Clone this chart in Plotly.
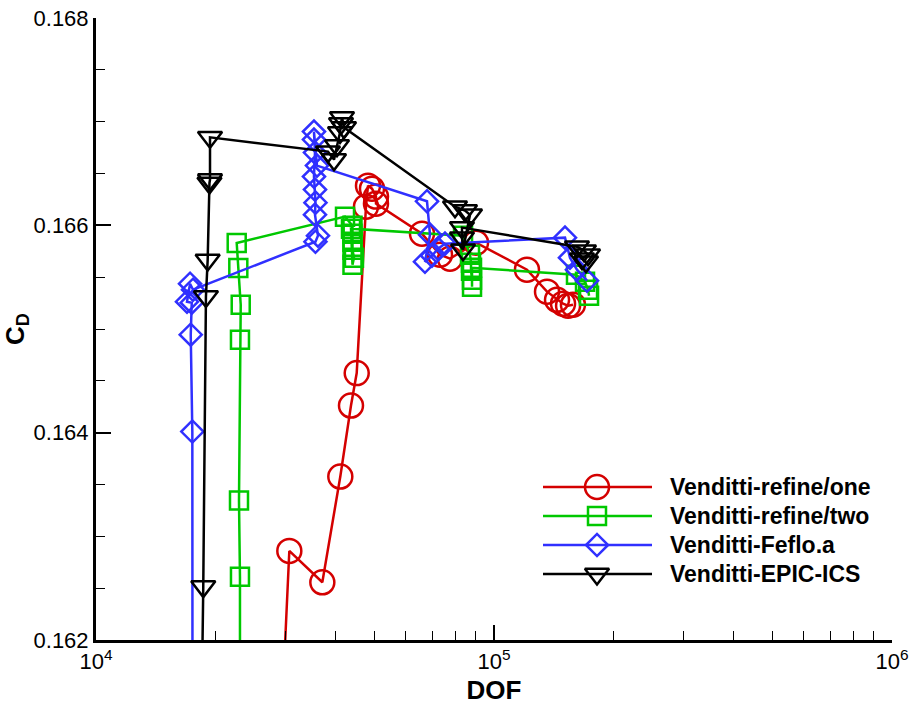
import plotly.graph_objects as go

# ---------------- data ----------------
series_names = ["Venditti-refine/one", "Venditti-refine/two",
                "Venditti-Feflo.a", "Venditti-EPIC-ICS"]

red_dof = [29080, 30600, 37040, 41100, 43720, 45190,
           47680, 48240, 49370, 50520, 50520,
           65930, 73170, 77520, 90120,
           121000, 135900, 144000, 149100, 153500, 157900]
red_cd = [0.161006, 0.162859, 0.162557, 0.163577, 0.164262, 0.164575,
          0.166180, 0.166383, 0.166354, 0.166277, 0.166209,
          0.165920, 0.165717, 0.165678, 0.165833,
          0.165572, 0.165360, 0.165282, 0.165244, 0.165225, 0.165234]

green_dof = [23000, 23000, 22870, 23000, 23100, 22780, 22570,
             42230, 44100, 44100, 44100, 44100, 44480, 44100, 43720,
             83600, 87040, 87550, 87550, 88060, 88060, 88060,
             160700, 169300, 172300, 173300]
green_cd = [0.160841, 0.162611, 0.163345, 0.164896, 0.165234, 0.165589, 0.165830,
            0.166084, 0.165997, 0.165920, 0.165842, 0.165765, 0.165688, 0.165620, 0.165968,
            0.165900, 0.165717, 0.165640, 0.165562, 0.165476, 0.165408, 0.165591,
            0.165524, 0.165456, 0.165379, 0.165321]

blue_dof = [17480, 17460, 17300, 17400, 16930, 17230, 17530,
            35600, 36120, 35500, 35600, 35500, 35290, 35500, 35290, 35290, 35910,
            67870, 69050, 67080, 69850, 72330, 75310,
            150800, 155200, 161600, 171300]
blue_cd = [0.160841, 0.164011, 0.164945, 0.165254, 0.165263, 0.165437, 0.165379,
           0.165842, 0.165900, 0.166103, 0.166219, 0.166345, 0.166470, 0.166702, 0.166827, 0.166904, 0.166576,
           0.166232, 0.165910, 0.165649, 0.165707, 0.165775, 0.165823,
           0.165881, 0.165688, 0.165572, 0.165466]

black_dof = [18410, 18600, 18890, 19080, 19280, 19340, 19340,
             38270, 39630, 40320, 41030, 41270, 41510, 41990,
             79800, 84550, 87040, 83600, 83100, 83100,
             161600, 168300, 172300, 166400, 170300]
black_cd = [0.161228, 0.162515, 0.165314, 0.165666, 0.166409, 0.166441, 0.166849,
            0.166711, 0.166634, 0.166769, 0.166895, 0.166982, 0.167040, 0.166943,
            0.166180, 0.166142, 0.166103, 0.165765, 0.165881, 0.165978,
            0.165794, 0.165756, 0.165717, 0.165678, 0.165649]

x_tick_vals = [1e4, 1e5, 1e6]
x_tick_labels = ["10<sup>4</sup>", "10<sup>5</sup>", "10<sup>6</sup>"]
x_minor_vals = [2e4, 3e4, 4e4, 5e4, 6e4, 7e4, 8e4, 9e4,
                2e5, 3e5, 4e5, 5e5, 6e5, 7e5, 8e5, 9e5]
y_tick_vals = [0.162, 0.164, 0.166, 0.168]
y_tick_labels = ["0.162", "0.164", "0.166", "0.168"]

# ---------------- styles ----------------
colors = ["#d40000", "#00c800", "#3030ff", "#000000"]
symbols = ["circle-open", "square-open", "diamond-open", "triangle-down-open"]
sizes = [24, 18, 17, 21]
FONT = "Arial, Liberation Sans, Helvetica, sans-serif"

fig = go.Figure()
data = [(red_dof, red_cd), (green_dof, green_cd),
        (blue_dof, blue_cd), (black_dof, black_cd)]
for (xs, ys), name, c, s, sz in zip(data, series_names, colors, symbols, sizes):
    fig.add_trace(go.Scatter(
        x=xs, y=ys, name=name, mode="lines+markers", showlegend=False,
        line=dict(color=c, width=2.5),
        marker=dict(symbol=s, size=sz, color=c, line=dict(width=2.5, color=c)),
    ))

# ---------------- custom legend (overlay axes in plot-pixel units) ----------------
LEG_LINE_X = [543, 652]
LEG_MARK_X = 597
LEG_TEXT_X = 668
LEG_ROWS = [487, 516, 545, 574]
for name, c, s, sz, yrow in zip(series_names, colors, symbols, sizes, LEG_ROWS):
    fig.add_trace(go.Scatter(
        x=LEG_LINE_X, y=[yrow, yrow], mode="lines", xaxis="x2", yaxis="y2",
        line=dict(color=c, width=2.5), showlegend=False, hoverinfo="skip"))
    fig.add_trace(go.Scatter(
        x=[LEG_MARK_X], y=[yrow], mode="markers", xaxis="x2", yaxis="y2",
        marker=dict(symbol=s, size=sz, color=c, line=dict(width=2.5, color=c)),
        showlegend=False, hoverinfo="skip"))
    fig.add_annotation(x=LEG_TEXT_X, y=yrow, xref="x2", yref="y2",
                       text="<b>" + name + "</b>", showarrow=False,
                       xanchor="left", yanchor="middle",
                       font=dict(family=FONT, size=23, color="black"))

fig.update_layout(
    width=911, height=715,
    margin=dict(l=96, r=19, t=18, b=75, autoexpand=False),
    paper_bgcolor="white", plot_bgcolor="white",
    showlegend=False,
    font=dict(family=FONT, color="black"),
    xaxis=dict(
        type="log", range=[4, 6], tickvals=x_tick_vals, ticktext=x_tick_labels,
        showline=True, linewidth=3, linecolor="black", mirror=False,
        ticks="inside", ticklen=15, tickwidth=2, tickcolor="black",
        minor=dict(ticks="inside", ticklen=9, tickwidth=1, tickcolor="black",
                   tickvals=x_minor_vals),
        showgrid=False, zeroline=False, automargin=False,
        ticklabeloverflow="allow",
        tickfont=dict(size=22, family=FONT, color="black"),
        title=dict(text="<b>DOF</b>", font=dict(size=26, family=FONT, color="black"), standoff=8),
    ),
    yaxis=dict(
        range=[0.162, 0.168], tickvals=y_tick_vals, ticktext=y_tick_labels,
        showline=True, linewidth=3, linecolor="black", mirror=False,
        ticks="inside", ticklen=15, tickwidth=2, tickcolor="black",
        minor=dict(ticks="inside", ticklen=9, tickwidth=1, tickcolor="black", dtick=0.0005),
        showgrid=False, zeroline=False, automargin=False,
        ticklabeloverflow="allow",
        tickfont=dict(size=22, family=FONT, color="black"),
        title=dict(text="<b>C<sub>D</sub></b>", font=dict(size=26, family=FONT, color="black"), standoff=6),
    ),
    xaxis2=dict(overlaying="x", range=[96, 892], visible=False, domain=[0, 1]),
    yaxis2=dict(overlaying="y", range=[640, 18], visible=False, domain=[0, 1]),
)

fig.write_html("out.html", config={"displayModeBar": False},
               post_script="document.body.style.margin='0';document.body.style.overflow='hidden';")
